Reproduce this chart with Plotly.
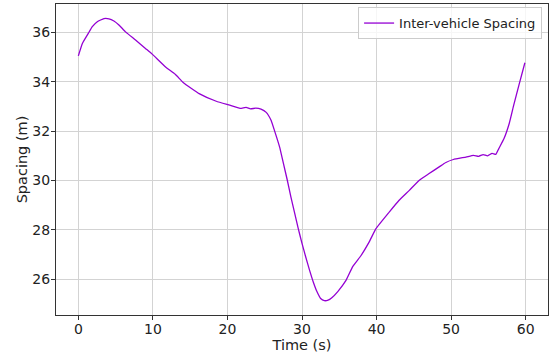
import plotly.graph_objects as go

time_s = [0, 0.54, 1.34, 1.87, 2.54, 3.43, 4.1, 4.77, 5.44, 6.33, 7.67, 9.0, 9.9,
          11.7, 13.0, 14.1, 16.2, 18.5, 20.3, 21.7, 22.5, 23.1, 23.8, 24.5, 25.2,
          25.85, 26.3, 27.0, 27.5, 28.0, 28.5, 29.0, 29.5, 30.0, 30.5, 31.0, 31.5,
          32.0, 32.5, 33.0, 33.5, 34.0, 34.8, 35.9, 36.8, 37.9, 39.0, 39.9, 41.7,
          43.0, 44.4, 45.7, 47.0, 48.4, 49.3, 50.3, 52.0, 53.0, 53.7, 54.3, 54.9,
          55.5, 56.0, 56.4, 57.1, 57.8, 58.4, 59.1, 59.9]
spacing_m = [35.05, 35.55, 35.96, 36.23, 36.43, 36.56, 36.55, 36.46, 36.30, 36.02,
             35.69, 35.35, 35.12, 34.60, 34.30, 33.96, 33.52, 33.21, 33.05, 32.92,
             32.96, 32.90, 32.93, 32.89, 32.76, 32.44, 32.03, 31.35, 30.70, 30.05,
             29.35, 28.70, 28.05, 27.45, 26.90, 26.38, 25.90, 25.50, 25.22, 25.13,
             25.15, 25.25, 25.50, 25.95, 26.51, 26.95, 27.5, 28.04, 28.72, 29.19,
             29.6, 30.0, 30.27, 30.55, 30.73, 30.85, 30.95, 31.02, 30.98, 31.05,
             31.00, 31.10, 31.06, 31.29, 31.70, 32.31, 33.05, 33.86, 34.77]

x_ticks = [0, 10, 20, 30, 40, 50, 60]
y_ticks = [26, 28, 30, 32, 34, 36]

fig = go.Figure()
fig.add_trace(go.Scatter(x=time_s, y=spacing_m, mode="lines",
                         name="Inter-vehicle Spacing",
                         line=dict(color="#9400D3", width=1.3, shape="spline", smoothing=0.4)))

axis_common = dict(showline=True, linecolor="#333333", linewidth=1, mirror=True,
                   showgrid=True, gridcolor="#d3d3d3", gridwidth=1,
                   ticks="outside", ticklen=4, tickcolor="#333333",
                   zeroline=False,
                   tickfont=dict(family="DejaVu Sans", size=14, color="#222222"),
                   title_font=dict(family="DejaVu Sans", size=14.5, color="#222222"))

fig.update_layout(
    width=549, height=358,
    margin=dict(l=56, r=1, t=4, b=43),
    paper_bgcolor="white", plot_bgcolor="white",
    xaxis=dict(range=[-3, 63], tickvals=x_ticks, ticklabelstandoff=-3,
               title=dict(text="Time (s)", standoff=0), **axis_common),
    yaxis=dict(range=[24.55, 37.15], tickvals=y_ticks, ticklabelstandoff=-2,
               title=dict(text="Spacing (m)", standoff=1), **axis_common),
    legend=dict(x=0.988, y=0.99, xanchor="right", yanchor="top",
                bgcolor="rgba(255,255,255,0.8)", bordercolor="#cccccc", borderwidth=1,
                font=dict(family="DejaVu Sans", size=13, color="#222222")),
    showlegend=True,
)

fig.write_html("out.html")
